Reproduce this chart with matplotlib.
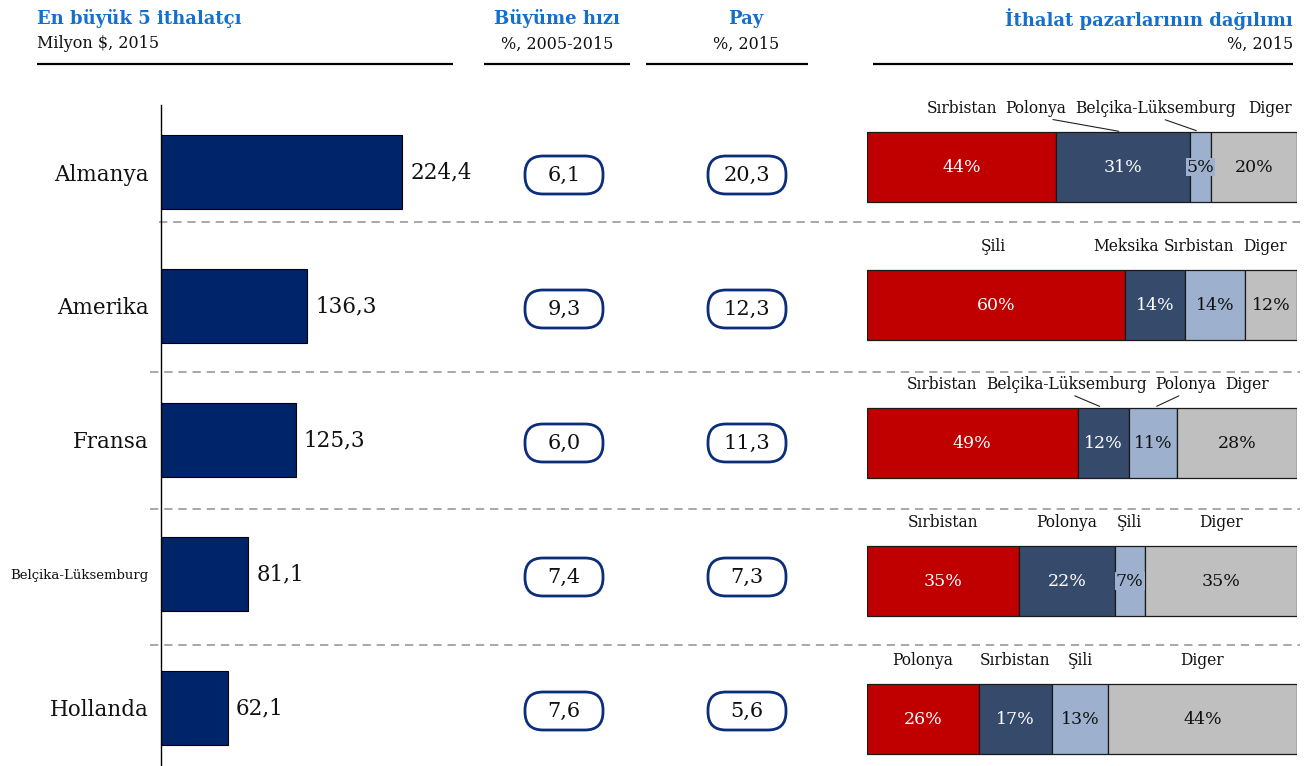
import matplotlib
matplotlib.use("Agg")
import matplotlib.pyplot as plt
from matplotlib import font_manager as fm
from matplotlib.patches import FancyBboxPatch

# ---------------------------------------------------------------------------
# Data
# ---------------------------------------------------------------------------
countries = ["Almanya", "Amerika", "Fransa", "Belçika-Lüksemburg", "Hollanda"]
imports = [224.4, 136.3, 125.3, 81.1, 62.1]          # Milyon $, 2015
growth = [6.1, 9.3, 6.0, 7.4, 7.6]                   # %, 2005-2015
share = [20.3, 12.3, 11.3, 7.3, 5.6]                 # %, 2015

market_names = [
    ["Sırbistan", "Polonya", "Belçika-Lüksemburg", "Diger"],
    ["Şili", "Meksika", "Sırbistan", "Diger"],
    ["Sırbistan", "Belçika-Lüksemburg", "Polonya", "Diger"],
    ["Sırbistan", "Polonya", "Şili", "Diger"],
    ["Polonya", "Sırbistan", "Şili", "Diger"],
]
market_pct = [
    [44, 31, 5, 20],
    [60, 14, 14, 12],
    [49, 12, 11, 28],
    [35, 22, 7, 35],
    [26, 17, 13, 44],
]

# ---------------------------------------------------------------------------
# Layout / style (pixels on a 1305 x 766 canvas)
# ---------------------------------------------------------------------------
W, H = 1305, 766
fams = {f.name for f in fm.fontManager.ttflist}
SERIF = "DejaVu Serif Condensed" if "DejaVu Serif Condensed" in fams else "DejaVu Serif"
plt.rcParams["font.family"] = [SERIF, "DejaVu Serif"]

BLUE_HEAD = "#1470CC"
NAVY = "#002469"
PILL = "#0B2D7A"
SEG_COLORS = ["#C00000", "#364B6C", "#9DB1CF", "#BFBFBF"]
SEG_TEXT = ["white", "white", "#111111", "#111111"]

# label x positions (percent) where the label is moved off its segment
LABEL_X = {
    0: [None, 39.3, 67.2, 93.7],
    1: [29.3, 60.2, 77.2, 92.5],
    2: [17.4, 46.5, 74.2, 88.4],
}
LEADERS = {0: [1, 2], 2: [1, 2]}


def frac(x0, y0, x1, y1):
    """pixel box (top-left origin) -> figure fraction rect"""
    return [x0 / W, 1 - y1 / H, (x1 - x0) / W, (y1 - y0) / H]


def fmt(v):
    return f"{v:.1f}".replace(".", ",")


fig = plt.figure(figsize=(W / 100, H / 100), dpi=100)

# overlay in pixel units for headers, separators and pills
ov = fig.add_axes([0, 0, 1, 1])
ov.set_xlim(0, W)
ov.set_ylim(H, 0)
ov.axis("off")

heads = [
    ("En büyük 5 ithalatçı", "Milyon $, 2015", 37, "left", 37, 453),
    ("Büyüme hızı", "%, 2005-2015", 557, "center", 484, 630),
    ("Pay", "%, 2015", 746, "center", 646, 808),
    ("İthalat pazarlarının dağılımı", "%, 2015", 1293, "right", 873, 1293),
]
for title, sub, x, ha, l0, l1 in heads:
    ov.text(x, 19, title, ha=ha, va="center", fontsize=13,
            fontweight="bold", color=BLUE_HEAD)
    ov.text(x, 44, sub, ha=ha, va="center", fontsize=11.5, color="#111111")
    ov.plot([l0, l1], [64, 64], color="black", lw=1.6, solid_capstyle="butt")

for y, x0 in zip([222, 372, 509, 645], [159, 150, 150, 150]):
    ov.plot([x0, 1300], [y, y], color="#9A9A9A", lw=1.2, dashes=(5, 3.5))

# ---------------------------------------------------------------------------
# Left: horizontal bars
# ---------------------------------------------------------------------------
ROW0, ROWH = 172, 134
ax = fig.add_axes(frac(161, 105, 470, H))
ax.set_facecolor("none")
ax.set_ylim(-0.5 + (H - 105) / ROWH, -0.5)
ax.set_xlim(0, (470 - 161) / 1.074)
rows = range(len(countries))
ax.barh(rows, imports, height=0.545, color=NAVY, edgecolor="black", lw=0.8)
for i, v in enumerate(imports):
    ax.annotate(fmt(v), (v, i), xytext=(6, 0), textcoords="offset points",
                ha="left", va="center", fontsize=15.5, color="#111111")
ax.set_yticks(list(rows))
ax.set_yticklabels(countries, fontsize=15.5, color="#111111")
ax.get_yticklabels()[3].set_fontsize(9.5)
ax.tick_params(axis="y", length=0, pad=9)
ax.set_xticks([])
for s in ["top", "right", "bottom"]:
    ax.spines[s].set_visible(False)
ax.spines["left"].set_linewidth(1.0)

# pills for growth and share
PW, PHT = 78, 38
for i in rows:
    yc = ROW0 + i * ROWH + 3
    for xc, v in [(564, growth[i]), (747, share[i])]:
        ov.add_patch(FancyBboxPatch((xc - PW / 2, yc - PHT / 2), PW, PHT,
                                    boxstyle="round,pad=0,rounding_size=18",
                                    fc="white", ec=PILL, lw=2.0))
        ov.text(xc, yc, fmt(v), ha="center", va="center",
                fontsize=15, color="#111111")

# ---------------------------------------------------------------------------
# Right: 100% stacked bars
# ---------------------------------------------------------------------------
SROW0, SROWH, BH = 167, 138, 0.507
top_px = SROW0 - SROWH / 2
axs = fig.add_axes(frac(867, top_px, 1297, H))
axs.set_facecolor("none")
axs.set_ylim(-0.5 + (H - top_px) / SROWH, -0.5)
axs.set_xlim(0, 100)
axs.axis("off")

for i, (names, pcts) in enumerate(zip(market_names, market_pct)):
    total = sum(pcts)
    left = 0
    for k, (nm, p) in enumerate(zip(names, pcts)):
        w = p * 100 / total
        axs.barh(i, w, left=left, height=BH, color=SEG_COLORS[k],
                 edgecolor="#1a1a1a", lw=0.9)
        cx = left + w / 2
        bb = None
        if k == 2:
            bb = dict(boxstyle="square,pad=0.05", fc=SEG_COLORS[k], ec="none")
        axs.text(cx, i, f"{p}%", ha="center", va="center", fontsize=12.5,
                 color=SEG_TEXT[k], bbox=bb)
        lx = cx
        if i in LABEL_X and LABEL_X[i][k] is not None:
            lx = LABEL_X[i][k]
        bar_top = i - BH / 2
        lab_y = bar_top - 24 / SROWH
        if k in LEADERS.get(i, []):
            axs.annotate(nm, xy=(cx, bar_top), xytext=(lx, lab_y),
                         fontsize=11.2, ha="center", va="center",
                         color="#111111",
                         arrowprops=dict(arrowstyle="-", lw=0.8, color="#222222",
                                         relpos=(0.5, 0), shrinkA=1, shrinkB=3))
        else:
            axs.text(lx, lab_y, nm, ha="center", va="center",
                     fontsize=11.2, color="#111111")
        left += w

fig.savefig("out.png", dpi=100)
plt.close(fig)
